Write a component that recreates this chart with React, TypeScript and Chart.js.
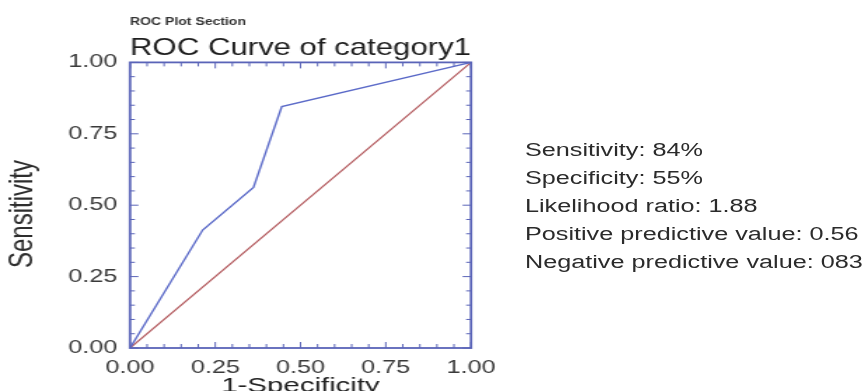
import React, { useEffect, useRef } from 'react';
import { Chart, registerables } from 'chart.js';

Chart.register(...registerables);

// ---- data ----
const ROC_X = [0, 0.213, 0.362, 0.445, 1];
const ROC_Y = [0, 0.413, 0.562, 0.845, 1];
const REF_X = [0, 1];
const REF_Y = [0, 1];
const TICK_VALUES = [0, 0.25, 0.5, 0.75, 1];
const MINOR_STEP = 0.05;
const SECTION_TITLE = 'ROC Plot Section';
const CHART_TITLE = 'ROC Curve of category1';
const X_TITLE = '1-Specificity';
const Y_TITLE = 'Sensitivity';
const STATS = [
  'Sensitivity: 84%',
  'Specificity: 55%',
  'Likelihood ratio: 1.88',
  'Positive predictive value: 0.56',
  'Negative predictive value: 083',
];

// ---- layout ----
const W = 616;
const H = 391;
const SX = 863 / W;
const FONT = '"Liberation Sans", Arial, sans-serif';
const FRAME = '#5a64b8';

const framePlugin = {
  id: 'rocFrame',
  afterDatasetsDraw(chart: any) {
    const { ctx, chartArea } = chart;
    const { left, right, top, bottom } = chartArea;
    const xs = chart.scales.x;
    const ys = chart.scales.y;
    ctx.save();
    ctx.strokeStyle = FRAME;
    ctx.lineWidth = 1;
    const n = Math.round((TICK_VALUES[TICK_VALUES.length - 1] - TICK_VALUES[0]) / MINOR_STEP);
    for (let i = 0; i <= n; i++) {
      const v = TICK_VALUES[0] + i * MINOR_STEP;
      const major = TICK_VALUES.some((t) => Math.abs(t - v) < 1e-9);
      const px = xs.getPixelForValue(v);
      const py = ys.getPixelForValue(v);
      const lv = major ? 6 : 4;
      const lh = major ? 6 : 3.5;
      ctx.beginPath();
      ctx.moveTo(px, bottom);
      ctx.lineTo(px, bottom - lv);
      ctx.moveTo(px, top);
      ctx.lineTo(px, top + lv);
      ctx.moveTo(left, py);
      ctx.lineTo(left + lh, py);
      ctx.moveTo(right, py);
      ctx.lineTo(right - lh, py);
      ctx.stroke();
    }
    ctx.lineWidth = 1.8;
    ctx.strokeRect(left, top, right - left, bottom - top);
    ctx.restore();
  },
  afterDraw(chart: any) {
    const { ctx } = chart;
    ctx.save();
    ctx.translate(16.5, 214);
    ctx.rotate(-Math.PI / 2);
    ctx.font = `24px ${FONT}`;
    ctx.fillStyle = '#2e2e2e';
    ctx.textAlign = 'center';
    ctx.textBaseline = 'middle';
    ctx.fillText(Y_TITLE, 0, 0);
    ctx.restore();
  },
};

export default function App() {
  const ref = useRef<HTMLCanvasElement>(null);

  useEffect(() => {
    if (!ref.current) return;
    const chart = new Chart(ref.current, {
      type: 'line',
      data: {
        datasets: [
          {
            label: 'ROC',
            data: ROC_X.map((x, i) => ({ x, y: ROC_Y[i] })),
            borderColor: '#5b6ac8',
            borderWidth: 1.4,
            pointRadius: 0,
            tension: 0,
            fill: false,
          },
          {
            label: 'Reference',
            data: REF_X.map((x, i) => ({ x, y: REF_Y[i] })),
            borderColor: '#b35a5e',
            borderWidth: 1.2,
            pointRadius: 0,
            tension: 0,
            fill: false,
          },
        ],
      },
      options: {
        animation: false,
        responsive: false,
        devicePixelRatio: 1,
        layout: { padding: { left: 0, right: W - 336.2, top: 0, bottom: 0 } },
        plugins: {
          legend: { display: false },
          tooltip: { enabled: false },
          subtitle: {
            display: true,
            text: SECTION_TITLE,
            align: 'start',
            fullSize: false,
            weight: 2500,
            position: 'top',
            color: '#333',
            font: { family: FONT, size: 10, weight: 'bold', lineHeight: 1.2 },
            padding: { top: 16, bottom: 0 },
          },
          title: {
            display: true,
            text: CHART_TITLE,
            align: 'center',
            fullSize: false,
            position: 'top',
            color: '#1e1e1e',
            font: { family: FONT, size: 24, weight: 'normal', lineHeight: 1.2 },
            padding: { top: 5.6, bottom: 0 },
          },
        },
        scales: {
          x: {
            type: 'linear',
            position: 'bottom',
            min: 0,
            max: 1,
            grid: { display: false, drawTicks: false },
            border: { display: false },
            ticks: {
              stepSize: 0.25,
              padding: 9,
              autoSkip: false,
              maxRotation: 0,
              color: '#3a3a3a',
              font: { family: FONT, size: 18, lineHeight: 1.2 },
              callback: (v: any) => Number(v).toFixed(2),
            },
            title: {
              display: true,
              text: X_TITLE,
              color: '#222',
              font: { family: FONT, size: 21, lineHeight: 1 },
              padding: { top: 0, bottom: -6 },
            },
            afterFit: (s: any) => {
              s.height = 43;
            },
          },
          y: {
            type: 'linear',
            position: 'left',
            min: 0,
            max: 1,
            grid: { display: false, drawTicks: false },
            border: { display: false },
            ticks: {
              stepSize: 0.25,
              padding: 9,
              color: '#3a3a3a',
              font: { family: FONT, size: 18, lineHeight: 1.2 },
              callback: (v: any) => Number(v).toFixed(2),
            },
            afterFit: (s: any) => {
              s.width = 92.8;
            },
          },
        },
      },
      plugins: [framePlugin],
    } as any);
    return () => chart.destroy();
  }, []);

  return (
    <div
      style={{
        position: 'absolute',
        left: 0,
        top: 0,
        width: W,
        height: H,
        overflow: 'hidden',
        background: '#fff',
        transform: `scaleX(${SX})`,
        transformOrigin: '0 0',
      }}
    >
      <canvas ref={ref} width={W} height={H} style={{ display: 'block', width: W, height: H }} />
      <div
        style={{
          position: 'absolute',
          left: 374.7,
          top: 136.4,
          fontFamily: FONT,
          fontSize: 18,
          lineHeight: '28px',
          color: '#2b2b2b',
          whiteSpace: 'nowrap',
        }}
      >
        {STATS.map((s) => (
          <div key={s}>{s}</div>
        ))}
      </div>
    </div>
  );
}
